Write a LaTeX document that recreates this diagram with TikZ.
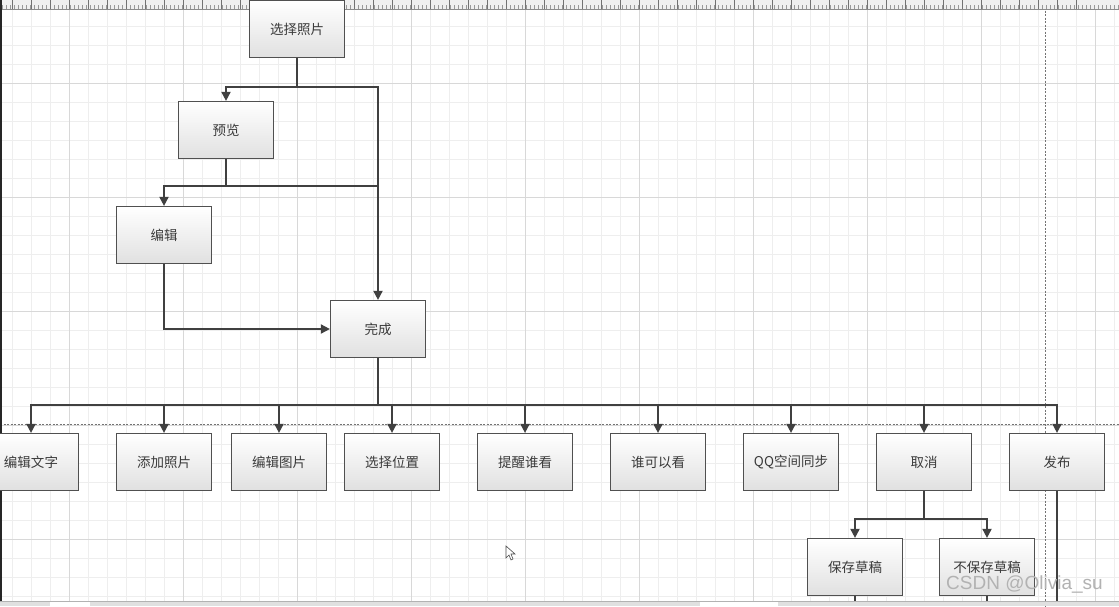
\documentclass[tikz,border=0pt]{standalone}
\usepackage{fontspec}
\newfontfamily\cjk{Noto Sans CJK SC}
\setsansfont{Liberation Sans}
\usetikzlibrary{arrows.meta}
\definecolor{gridminor}{HTML}{EEEEEE}
\definecolor{gridmajor}{HTML}{D8D8D8}
\definecolor{linec}{HTML}{404040}
\definecolor{boxline}{HTML}{505050}
\definecolor{txt}{HTML}{3A3A3A}
\tikzset{
  stepbox/.style={draw=boxline, line width=1.2pt, top color=white, bottom color=black!12,
    minimum width=95pt, minimum height=57pt, inner sep=0pt,
    font=\cjk\fontsize{13.5}{13.5}\selectfont, text=txt},
  conn/.style={draw=linec, line width=1.8pt},
  arr/.style={conn, -{Triangle[length=9pt,width=9pt]}},
  pagebreak/.style={draw=black!55, line width=0.6pt, dash pattern=on 2pt off 1.5pt}
}
\begin{document}
\begin{tikzpicture}[x=1pt,y=-1pt]
\useasboundingbox (0,0) rectangle (1119,606);
\clip (0,0) rectangle (1119,606);
\fill[white] (0,0) rectangle (1119,606);
% grid
\foreach \x in {0,...,58} \draw[gridminor, line width=0.7pt] (12+19*\x,0) -- (12+19*\x,606);
\foreach \y in {0,...,32} \draw[gridminor, line width=0.7pt] (0,7+19*\y) -- (1119,7+19*\y);
\foreach \x in {0,...,9} \draw[gridmajor, line width=0.9pt] (69+114*\x,0) -- (69+114*\x,606);
\foreach \y in {0,...,5} \draw[gridmajor, line width=0.9pt] (0,83+114*\y) -- (1119,83+114*\y);
% page breaks
\draw[pagebreak] (0,424) -- (1119,424);
\draw[pagebreak] (1045,0) -- (1045,606);
% ruler
\fill[black!6] (0,0) rectangle (1119,9);
\draw[black!45, line width=0.6pt] (0,9) -- (1119,9);
\foreach \x in {0,...,280} \draw[black!40, line width=0.4pt] (2+4*\x,9) -- (2+4*\x,5);
\foreach \x in {0,...,56} \draw[black!55, line width=0.5pt] (12+19*\x,9) -- (12+19*\x,0);
% left edge
\fill[black!85] (0,0) rectangle (2,606);
% nodes
\node[stepbox] (xzzp) at (297,29) {选择照片};
\node[stepbox] (yl)   at (226,130) {预览};
\node[stepbox] (bj)   at (164,235) {编辑};
\node[stepbox] (wc)   at (378,329) {完成};
\node[stepbox] (bjwz) at (31,462)  {编辑文字};
\node[stepbox] (tjzp) at (164,462) {添加照片};
\node[stepbox] (bjtp) at (279,462) {编辑图片};
\node[stepbox] (xzwz) at (392,462) {选择位置};
\node[stepbox] (txsk) at (525,462) {提醒谁看};
\node[stepbox] (skyk) at (658,462) {谁可以看};
\node[stepbox] (qq)   at (791,462) {QQ空间同步};
\node[stepbox] (qx)   at (924,462) {取消};
\node[stepbox] (fb)   at (1057,462) {发布};
\node[stepbox] (bccg) at (855,567) {保存草稿};
\node[stepbox] (bbc)  at (987,567) {不保存草稿};
% connectors
\coordinate (j1) at (xzzp.south |- 0,87);
\coordinate (j2) at (yl.south |- 0,186);
\draw[conn] (xzzp.south) -- (j1);
\draw[arr] (j1) -| (yl.north);
\draw[arr] (j1) -| (wc.north);
\draw[conn] (yl.south) -- (j2);
\draw[arr] (j2) -| (bj.north);
\draw[conn] (j2) -- (j2 -| wc.north);
\draw[arr] (bj.south) |- (wc.west);
\coordinate (bus) at (wc.south |- 0,405);
\draw[conn] (wc.south) -- (bus);
\foreach \n in {bjwz,tjzp,bjtp,xzwz,txsk,skyk,qq,qx,fb} \draw[arr] (bus) -| (\n.north);
\coordinate (j3) at (qx.south |- 0,519);
\draw[conn] (qx.south) -- (j3);
\draw[arr] (j3) -| (bccg.north);
\draw[arr] (j3) -| (bbc.north);
\coordinate (fbend) at (fb.south |- 0,606);
\coordinate (bcend) at (bccg.south |- 0,606);
\coordinate (bbend) at (bbc.south |- 0,606);
\draw[conn, line width=1.2pt] (fb.south) -- (fbend);
\draw[conn, line width=1.2pt] (bccg.south) -- (bcend);
\draw[conn, line width=1.2pt] (bbc.south) -- (bbend);
% cursor
\draw[black!70, fill=white, line width=0.6pt] (506,546) -- (506,558) -- (509,555) -- (511,560) -- (513,559) -- (511,554) -- (515,554) -- cycle;
% watermark
\node[anchor=west, inner sep=0pt, font=\sffamily\fontsize{19}{19}\selectfont, text=black!30] (wm) at (946,584) {CSDN @Olivia\_su};
% bottom bar
\fill[black!12] (0,601) rectangle (1119,606);
\draw[black!30, line width=0.5pt] (0,601) -- (1119,601);
\fill[white] (50,602) rectangle (90,606);
\fill[white] (700,602) rectangle (778,606);
\end{tikzpicture}
\end{document}
